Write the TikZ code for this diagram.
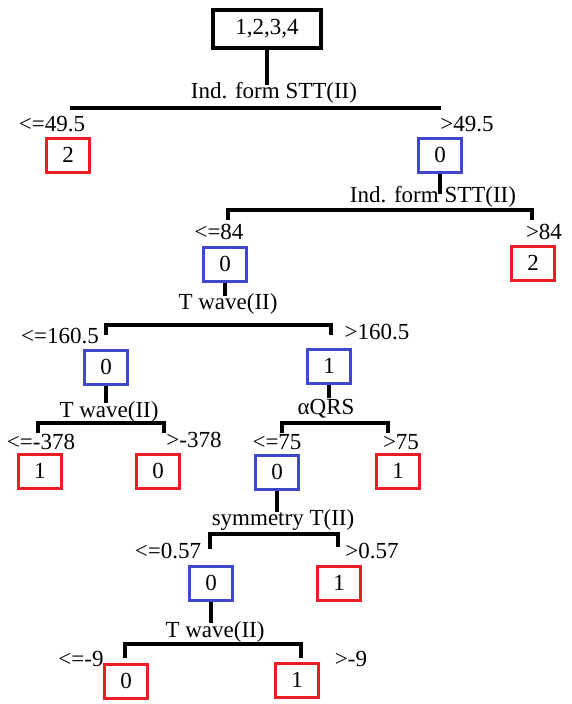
\documentclass[tikz,border=0pt]{standalone}
\usepackage{fontspec}
\setmainfont{Liberation Serif}
\definecolor{leafred}{RGB}{237,28,36}
\definecolor{nodeblue}{RGB}{63,72,204}
\begin{document}
\begin{tikzpicture}[x=1pt,y=-1pt,
  every node/.style={font=\fontsize{23}{27}\selectfont, inner sep=0pt},
  box/.style={draw, line width=3pt, minimum width=43pt, minimum height=34pt},
  redbox/.style={box, draw=leafred},
  bluebox/.style={box, draw=nodeblue},
  rootbox/.style={box, draw=black, line width=3.5pt, minimum width=108pt, minimum height=38pt},
  branch/.style={line width=3.2pt, black}]
\useasboundingbox (0,0) rectangle (571,704);

% ---- nodes ----
\node[rootbox] (root) at (267,29) {1,2,3,4};
\node[redbox]  (l1a) at (68,155)  {2};
\node[bluebox] (n1)  at (440,155) {0};
\node[bluebox] (n2)  at (225,264) {0};
\node[redbox]  (l2b) at (533,263) {2};
\node[bluebox] (n3)  at (106,367) {0};
\node[bluebox] (n4)  at (329,366) {1};
\node[redbox]  (l4a) at (40,471)  {1};
\node[redbox]  (l4b) at (158,471) {0};
\node[bluebox] (n5)  at (277,472) {0};
\node[redbox]  (l4d) at (398,471) {1};
\node[bluebox] (n6)  at (211,583) {0};
\node[redbox]  (l5b) at (339,583) {1};
\node[redbox]  (l6a) at (126,681) {0};
\node[redbox]  (l6b) at (297,680) {1};

% ---- split points and bar ends ----
\coordinate (s0) at (267,85);
\coordinate (b0l) at (70,108);  \coordinate (b0r) at (441,108);
\coordinate (s1) at (440,194);
\coordinate (b1) at (440,210);
\coordinate (t1l) at (228,220); \coordinate (t1r) at (532,220);
\coordinate (s2) at (225,296);
\coordinate (b2) at (225,325);
\coordinate (t2l) at (106,335); \coordinate (t2r) at (331,335);
\coordinate (s3) at (106,403);
\coordinate (b3) at (106,423);
\coordinate (t3l) at (38,433);  \coordinate (t3r) at (164,433);
\coordinate (s4) at (329,398);
\coordinate (b4) at (329,423);
\coordinate (t4l) at (282,433); \coordinate (t4r) at (388,433);
\coordinate (s5) at (277,512);
\coordinate (b5) at (277,534);
\coordinate (t5l) at (210,549); \coordinate (t5r) at (338,547);
\coordinate (s6) at (211,623);
\coordinate (b6) at (211,644);
\coordinate (t6l) at (125,658); \coordinate (t6r) at (301,658);

% ---- connectors ----
\draw[branch] (root.south) -- (s0);
\draw[branch] (b0l) -- (b0r);
\draw[branch] (n1.south) -- (s1);
\draw[branch] (t1l) |- (b1) -| (t1r);
\draw[branch] (n2.south) -- (s2);
\draw[branch] (t2l) |- (b2) -| (t2r);
\draw[branch] (n3.south) -- (s3);
\draw[branch] (t3l) |- (b3) -| (t3r);
\draw[branch] (n4.south) -- (s4);
\draw[branch] (t4l) |- (b4) -| (t4r);
\draw[branch] (n5.south) -- (s5);
\draw[branch] (t5l) |- (b5) -| (t5r);
\draw[branch] (n6.south) -- (s6);
\draw[branch] (t6l) |- (b6) -| (t6r);

% ---- attribute names ----
\node (a0) at (274,93)  {Ind. form STT(II)};
\node (a1) at (433,197) {Ind. form STT(II)};
\node (a2) at (228,304) {T wave(II)};
\node (a3) at (109,412) {T wave(II)};
\node (a4) at (326,409) {αQRS};
\node (a5) at (283,520) {symmetry T(II)};
\node (a6) at (215,632) {T wave(II)};

% ---- thresholds ----
\node (c0l) at (52,124)  {<=49.5};
\node (c0r) at (467,124) {>49.5};
\node (c1l) at (219,232) {<=84};
\node (c1r) at (544,232) {>84};
\node (c2l) at (60,336)  {<=160.5};
\node (c2r) at (377,332) {>160.5};
\node (c3l) at (41,442)  {<=-378};
\node (c3r) at (194,440) {>-378};
\node (c4l) at (277,442) {<=75};
\node (c4r) at (401,442) {>75};
\node (c5l) at (168,551) {<=0.57};
\node (c5r) at (372,551) {>0.57};
\node (c6l) at (81,659)  {<=-9};
\node (c6r) at (351,659) {>-9};
\end{tikzpicture}
\end{document}
